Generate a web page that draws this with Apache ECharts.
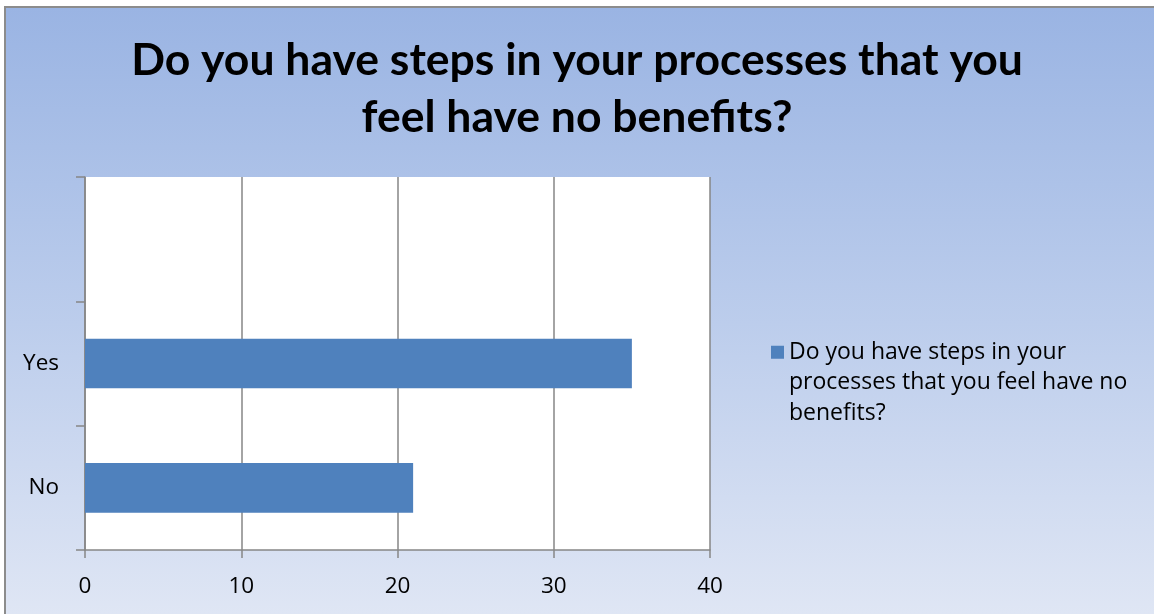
<!DOCTYPE html>
<html>
<head>
<meta charset="utf-8">
<script src="https://cdn.jsdelivr.net/npm/echarts@6/dist/echarts.min.js"></script>
<style>
html,body{margin:0;padding:0;background:#fff;overflow:hidden;}
#bg{position:absolute;left:4px;top:6px;width:1170px;height:630px;border-left:2px solid #8c8c8c;border-top:2px solid #8c8c8c;
  background:linear-gradient(to bottom,#9ab4e3 0%,#bccdec 50%,#e2e8f5 100%);}
#c{position:absolute;left:0;top:0;width:1154px;height:614px;}
</style>
</head>
<body>
<div id="bg"></div>
<div id="c"></div>
<script>
const titleLines = ['Do you have steps in your processes that you', 'feel have no benefits?'];
const categories = ['No', 'Yes', ''];
const seriesName = 'Do you have steps in your processes that you feel have no benefits?';
const values = [21, 35, null];
const legendLines = ['Do you have steps in your', 'processes that you feel have no', 'benefits?'];
const xMin = 0, xMax = 40, xInterval = 10;

const TFONT = 'Lato';
const FONT = 'Open Sans';
const chart = echarts.init(document.getElementById('c'), null, {renderer: 'canvas'});
chart.setOption({
  backgroundColor: 'transparent',
  animation: false,
  title: {
    text: titleLines.join('\n'),
    left: 'center',
    top: 27,
    textStyle: {fontFamily: TFONT, fontWeight: 'bold', fontSize: 44.5, lineHeight: 57, color: '#000'}
  },
  legend: {
    orient: 'vertical',
    left: 766,
    top: 271,
    itemWidth: 13,
    itemHeight: 13,
    icon: 'rect',
    data: [seriesName],
    formatter: () => '\n\n' + legendLines.join('\n'),
    textStyle: {fontFamily: FONT, fontSize: 23, lineHeight: 30.5, color: '#000'}
  },
  grid: {left: 85, right: 444, top: 177, bottom: 64, show: true, backgroundColor: '#ffffff', borderWidth: 0},
  xAxis: {
    type: 'value', min: xMin, max: xMax, interval: xInterval,
    axisLine: {show: true, lineStyle: {color: '#868686', width: 1.5}},
    axisTick: {show: true, length: 8, lineStyle: {color: '#868686', width: 1.5}},
    splitLine: {show: true, lineStyle: {color: '#868686', width: 1.5}},
    axisLabel: {fontFamily: FONT, fontSize: 22.5, color: '#000', margin: 25}
  },
  yAxis: {
    type: 'category', data: categories,
    axisLine: {show: true, lineStyle: {color: '#868686', width: 1.5}},
    axisTick: {show: true, length: 9, lineStyle: {color: '#868686', width: 1.5}},
    splitLine: {show: false},
    axisLabel: {fontFamily: FONT, fontSize: 22.5, color: '#000', margin: 26}
  },
  series: [{
    name: seriesName, type: 'bar', data: values, barWidth: '40%',
    itemStyle: {color: '#4f81bd'}
  }]
});
</script>
</body>
</html>
